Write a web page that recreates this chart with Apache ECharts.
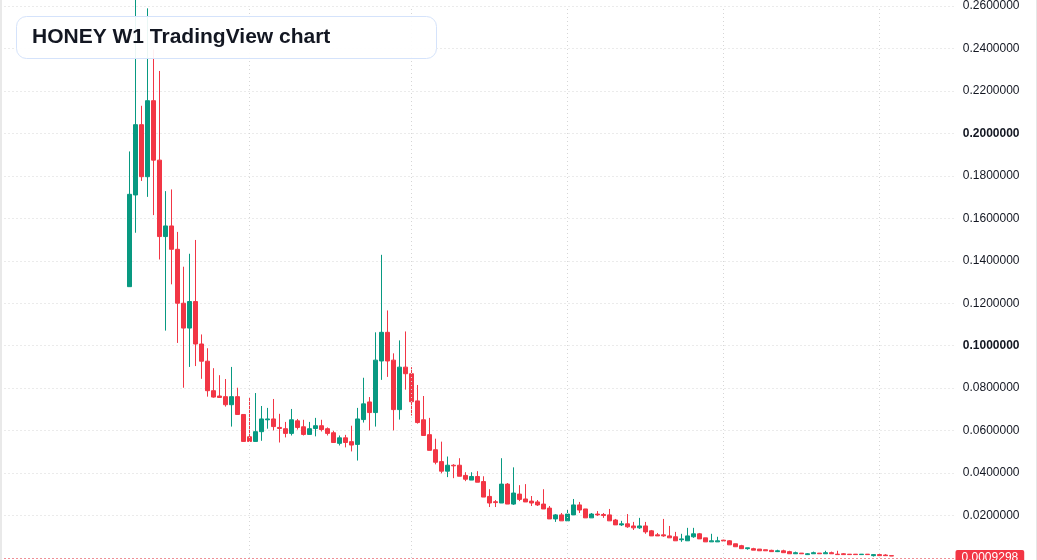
<!DOCTYPE html>
<html>
<head>
<meta charset="utf-8">
<title>HONEY W1</title>
<script src="https://cdn.jsdelivr.net/npm/echarts@6/dist/echarts.min.js"></script>
<style>
  html, body { margin: 0; padding: 0; background: #fff; }
  #chart { width: 1037px; height: 560px; }
</style>
</head>
<body>
<div id="chart"></div>
<script>
// weekly candles (oldest first)
const opens = [
  0.1278, 0.1710, 0.2041, 0.1796, 0.2154, 0.1874, 0.1514, 0.1564, 0.1454, 0.1200,
  0.1083, 0.1208, 0.1008, 0.0927, 0.0788, 0.0763, 0.0760, 0.0722, 0.0760, 0.0676,
  0.0571, 0.0549, 0.0595, 0.0651, 0.0655, 0.0615, 0.0609, 0.0587, 0.0646, 0.0618,
  0.0582, 0.0610, 0.0623, 0.0609, 0.0590, 0.0540, 0.0566, 0.0548, 0.0535, 0.0652,
  0.0735, 0.0685, 0.0928, 0.1063, 0.0932, 0.0699, 0.0899, 0.0868, 0.0740, 0.0651,
  0.0581, 0.0510, 0.0454, 0.0409, 0.0437, 0.0437, 0.0389, 0.0367, 0.0384, 0.0360,
  0.0290, 0.0265, 0.0259, 0.0348, 0.0254, 0.0301, 0.0278, 0.0268, 0.0264, 0.0254,
  0.0235, 0.0184, 0.0203, 0.0175, 0.0203, 0.0250, 0.0231, 0.0189, 0.0207, 0.0205,
  0.0203, 0.0179, 0.0156, 0.0161, 0.0151, 0.0142, 0.0151, 0.0128, 0.0109, 0.0109,
  0.0104, 0.0100, 0.0086, 0.0081, 0.0100, 0.0114, 0.0095, 0.0076, 0.0076, 0.0084,
  0.0081, 0.0067, 0.0058, 0.0044, 0.0044, 0.0042, 0.0039, 0.0036, 0.0030, 0.0034,
  0.0030, 0.0020, 0.0023, 0.0016, 0.0020, 0.0023, 0.0020, 0.0025, 0.0018, 0.0020,
  0.0018, 0.0018, 0.0016, 0.0018, 0.0011, 0.0016, 0.0014, 0.0011
];
const closes = [
  0.1713, 0.2041, 0.1796, 0.2154, 0.1874, 0.1514, 0.1564, 0.1454, 0.1200, 0.1083,
  0.1208, 0.1008, 0.0927, 0.0788, 0.0758, 0.0756, 0.0722, 0.0760, 0.0676, 0.0549,
  0.0549, 0.0595, 0.0655, 0.0655, 0.0619, 0.0610, 0.0587, 0.0651, 0.0615, 0.0582,
  0.0609, 0.0623, 0.0605, 0.0587, 0.0544, 0.0566, 0.0544, 0.0532, 0.0655, 0.0726,
  0.0685, 0.0932, 0.1063, 0.0928, 0.0699, 0.0899, 0.0868, 0.0736, 0.0638, 0.0577,
  0.0507, 0.0451, 0.0409, 0.0437, 0.0434, 0.0385, 0.0371, 0.0384, 0.0357, 0.0287,
  0.0259, 0.0261, 0.0348, 0.0254, 0.0306, 0.0276, 0.0264, 0.0259, 0.0250, 0.0231,
  0.0184, 0.0203, 0.0175, 0.0207, 0.0250, 0.0226, 0.0189, 0.0207, 0.0203, 0.0200,
  0.0175, 0.0156, 0.0161, 0.0147, 0.0142, 0.0151, 0.0123, 0.0104, 0.0104, 0.0104,
  0.0095, 0.0081, 0.0090, 0.0104, 0.0114, 0.0090, 0.0076, 0.0081, 0.0081, 0.0080,
  0.0062, 0.0053, 0.0044, 0.0048, 0.0037, 0.0034, 0.0034, 0.0030, 0.0034, 0.0025,
  0.0020, 0.0025, 0.0020, 0.0020, 0.0025, 0.0020, 0.0025, 0.0020, 0.0016, 0.0016,
  0.0016, 0.0016, 0.0018, 0.0016, 0.0016, 0.0011, 0.0011, 0.0009298
];
const lows = [
  0.1278, 0.1532, 0.1776, 0.1701, 0.1615, 0.1406, 0.1071, 0.1289, 0.1013, 0.0802,
  0.0900, 0.0904, 0.0844, 0.0760, 0.0755, 0.0755, 0.0713, 0.0619, 0.0676, 0.0549,
  0.0549, 0.0549, 0.0552, 0.0609, 0.0601, 0.0544, 0.0568, 0.0577, 0.0605, 0.0577,
  0.0582, 0.0573, 0.0596, 0.0577, 0.0544, 0.0530, 0.0521, 0.0502, 0.0459, 0.0638,
  0.0601, 0.0619, 0.0839, 0.0853, 0.0601, 0.0652, 0.0793, 0.0671, 0.0633, 0.0577,
  0.0507, 0.0441, 0.0399, 0.0381, 0.0376, 0.0385, 0.0362, 0.0367, 0.0357, 0.0287,
  0.0240, 0.0240, 0.0259, 0.0254, 0.0250, 0.0268, 0.0264, 0.0245, 0.0245, 0.0231,
  0.0184, 0.0170, 0.0175, 0.0175, 0.0203, 0.0212, 0.0189, 0.0189, 0.0198, 0.0189,
  0.0175, 0.0156, 0.0151, 0.0142, 0.0132, 0.0137, 0.0114, 0.0104, 0.0104, 0.0100,
  0.0095, 0.0081, 0.0076, 0.0081, 0.0095, 0.0090, 0.0076, 0.0076, 0.0076, 0.0080,
  0.0062, 0.0053, 0.0044, 0.0039, 0.0037, 0.0034, 0.0034, 0.0030, 0.0028, 0.0025,
  0.0020, 0.0019, 0.0020, 0.0014, 0.0020, 0.0020, 0.0020, 0.0020, 0.0016, 0.0016,
  0.0016, 0.0016, 0.0016, 0.0016, 0.0007, 0.0011, 0.0011, 0.0009
];
const highs = [
  0.1915, 0.2700, 0.2130, 0.2589, 0.2394, 0.2294, 0.1728, 0.1736, 0.1536, 0.1372,
  0.1433, 0.1498, 0.1053, 0.0988, 0.0894, 0.0861, 0.0843, 0.0900, 0.0802, 0.0676,
  0.0755, 0.0777, 0.0716, 0.0707, 0.0749, 0.0679, 0.0641, 0.0702, 0.0655, 0.0651,
  0.0641, 0.0660, 0.0651, 0.0615, 0.0599, 0.0577, 0.0580, 0.0623, 0.0707, 0.0849,
  0.0758, 0.1063, 0.1428, 0.1166, 0.0964, 0.1025, 0.1067, 0.0899, 0.0815, 0.0763,
  0.0660, 0.0562, 0.0548, 0.0478, 0.0442, 0.0470, 0.0404, 0.0404, 0.0409, 0.0385,
  0.0324, 0.0273, 0.0470, 0.0353, 0.0427, 0.0343, 0.0348, 0.0292, 0.0273, 0.0324,
  0.0245, 0.0207, 0.0212, 0.0226, 0.0278, 0.0264, 0.0231, 0.0212, 0.0221, 0.0212,
  0.0231, 0.0184, 0.0175, 0.0207, 0.0170, 0.0189, 0.0170, 0.0132, 0.0118, 0.0184,
  0.0151, 0.0123, 0.0114, 0.0142, 0.0142, 0.0118, 0.0095, 0.0114, 0.0100, 0.0086,
  0.0084, 0.0067, 0.0062, 0.0048, 0.0048, 0.0042, 0.0039, 0.0039, 0.0039, 0.0039,
  0.0034, 0.0030, 0.0023, 0.0023, 0.0030, 0.0023, 0.0034, 0.0030, 0.0034, 0.0023,
  0.0018, 0.0018, 0.0018, 0.0018, 0.0018, 0.0018, 0.0018, 0.0011
];
// empty weeks shown left / right of the candles
const padBefore = 21;
const padAfter = 10;
// candles (1-based) where the time grid lines fall
const timeGridCandles = [21, 48, 74, 100, 126];
const yTicks = [0.02, 0.04, 0.06, 0.08, 0.10, 0.12, 0.14, 0.16, 0.18, 0.20, 0.22, 0.24, 0.26];
const boldTicks = [0.10, 0.20];
const lastPrice = 0.0009298;

const UP = '#089981'
const DOWN = '#f23645'
const TEXT = '#131722'
const GRID = '#d6d6d6'

const total = padBefore + opens.length + padAfter
const categories = []
for (let i = 0; i < total; i++) categories.push('w' + (i - padBefore + 1))

const candles = []
for (let i = 0; i < padBefore; i++) candles.push('-')
opens.forEach((o, i) => candles.push([o, closes[i], lows[i], highs[i]]))
for (let i = 0; i < padAfter; i++) candles.push('-')

const isTick = (v, list) => list.some(t => Math.abs(t - v) < 1e-7)

const chart = echarts.init(document.getElementById('chart'))

chart.setOption({
  backgroundColor: '#ffffff',
  animation: false,
  textStyle: { fontFamily: "'Liberation Sans', Arial, sans-serif" },
  grid: { left: 0.5, width: total * 6, top: 1.6, bottom: 2 },
  xAxis: {
    type: 'category',
    data: categories,
    boundaryGap: true,
    axisLine: { show: false },
    axisTick: { show: false },
    axisLabel: { show: false },
    splitLine: { show: false }
  },
  yAxis: {
    type: 'value',
    position: 'right',
    min: 0,
    max: 0.26,
    interval: 0.02,
    axisLine: { show: false },
    axisTick: { show: false },
    splitLine: { lineStyle: { color: GRID, width: 1, type: [1, 3] } },
    axisLabel: {
      showMinLabel: false,
      showMaxLabel: true,
      align: 'right',
      margin: 65,
      color: TEXT,
      fontSize: 12,
      formatter: function (v) {
        if (!isTick(v, yTicks)) return ''
        const s = v.toFixed(7)
        return isTick(v, boldTicks) ? '{b|' + s + '}' : s
      },
      rich: { b: { fontWeight: 'bold', fontSize: 12, color: TEXT } }
    }
  },
  series: [{
    type: 'candlestick',
    data: candles,
    barWidth: 4,
    clip: false,
    itemStyle: {
      color: UP,
      color0: DOWN,
      borderColor: UP,
      borderColor0: DOWN,
      borderWidth: 1
    },
    markLine: {
      silent: true,
      symbol: ['none', 'none'],
      animation: false,
      data: timeGridCandles.map(n => ({
        xAxis: padBefore + n - 1,
        lineStyle: { color: GRID, width: 1, type: [1, 3] },
        label: { show: false }
      })).concat([{
        yAxis: lastPrice,
        lineStyle: { color: DOWN, width: 1, type: [1, 3] },
        label: {
          show: true,
          position: 'end',
          distance: 1,
          formatter: lastPrice.toFixed(7),
          color: '#ffffff',
          fontSize: 12,
          lineHeight: 12,
          backgroundColor: DOWN,
          padding: [2, 6, 2, 6],
          borderRadius: 2
        }
      }])
    }
  }],
  graphic: [
    { type: 'rect', left: 0, top: 0, z: 100, shape: { width: 2, height: 560 }, style: { fill: '#e9e9e9' }, silent: true },
    { type: 'rect', left: 1036, top: 0, z: 100, shape: { width: 1, height: 560 }, style: { fill: '#e6e6e6' }, silent: true },
    {
      type: 'group',
      left: 16,
      top: 16,
      z: 100,
      children: [
        {
          type: 'rect',
          z: 100,
          shape: { x: 0.5, y: 0.5, width: 420, height: 42, r: 10 },
          style: { fill: 'rgba(255,255,255,0.92)', stroke: '#d5e3fb', lineWidth: 1 }
        },
        {
          type: 'text',
          z: 101,
          x: 16,
          y: 21.5,
          style: {
            text: 'HONEY W1 TradingView chart',
            fill: TEXT,
            font: "bold 21px 'Liberation Sans', Arial, sans-serif",
            verticalAlign: 'middle'
          }
        }
      ]
    }
  ]
})
</script>
</body>
</html>
